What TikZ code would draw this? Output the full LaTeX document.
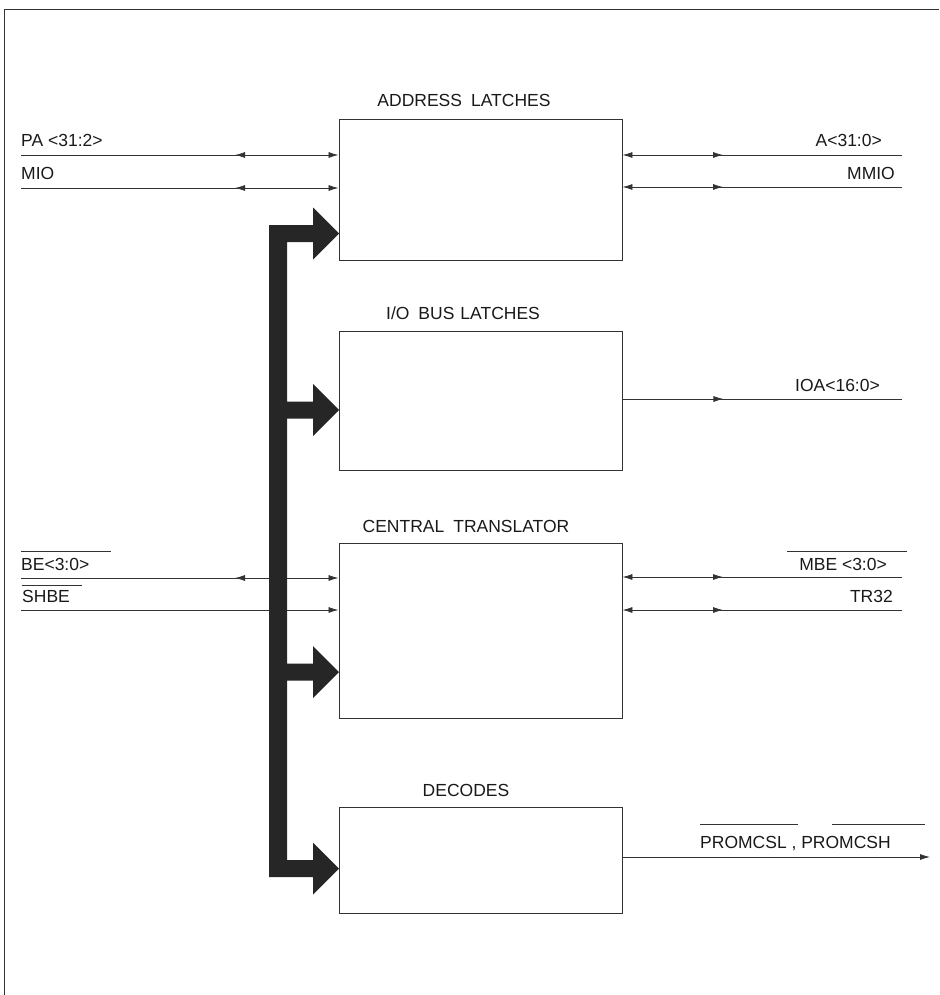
\documentclass[tikz,border=0pt]{standalone}
\usepackage{fontspec}
\setmainfont{Liberation Sans}
\usetikzlibrary{arrows.meta,decorations.markings}
\begin{document}
\begin{tikzpicture}[x=1pt,y=-1pt,
  font=\fontsize{17.5}{20}\selectfont,
  blk/.style={draw=black!80, line width=0.9pt, minimum width=283pt, inner sep=0pt},
  sig/.style={draw=black!80, line width=0.8pt},
  tip/.style={-{Latex[length=10pt,width=6pt]}},
  lbl/.style={inner sep=0pt, text=black!90},
  ovl/.style={draw=black!80, line width=0.8pt},
  midrev/.style={postaction={decorate}, decoration={markings, mark=at position #1 with {\arrowreversed{Latex[length=10pt,width=6pt]}}}},
  midfwd/.style={postaction={decorate}, decoration={markings, mark=at position #1 with {\arrow{Latex[length=10pt,width=6pt]}}}}
]
\useasboundingbox (0,0) rectangle (939,995);
% frame
\draw[line width=1pt, black!80] (4,995) -- (4,10) -- (939,10);

% blocks
\node[blk, minimum height=141pt] (addr) at (480.5,189.5) {};
\node[blk, minimum height=139pt] (iob) at (480.5,400.5) {};
\node[blk, minimum height=175pt] (ctr) at (480.5,630.5) {};
\node[blk, minimum height=106pt] (dec) at (480.5,860) {};

% titles
\node[lbl, anchor=base] (addrT) at (464,107) {ADDRESS\hspace{9pt}LATCHES};
\node[lbl, anchor=base] (iobT) at (463,319) {I/O\hspace{9pt}BUS\hspace{6pt}LATCHES};
\node[lbl, anchor=base] (ctrT) at (466,532) {CENTRAL\hspace{9pt}TRANSLATOR};
\node[lbl, anchor=base] (decT) at (466,796) {DECODES};

% left signals
\coordinate (paL) at (21,155);
\coordinate (mioL) at (21,188);
\coordinate (beL) at (21,578);
\coordinate (shL) at (21,610);
\draw[sig, tip, midrev=214pt] (paL) -- (paL -| addr.west);
\draw[sig, tip, midrev=214pt] (mioL) -- (mioL -| addr.west);
\draw[sig, tip, midrev=214pt] (beL) -- (beL -| ctr.west);
\draw[sig, tip] (shL) -- (shL -| ctr.west);
\node[lbl, anchor=base west] (paT) at (21,147) {PA <31:2>};
\node[lbl, anchor=base west] (mioT) at (21,180) {MIO};
\node[lbl, anchor=base west] (beT) at (21,570) {BE<3:0>};
\node[lbl, anchor=base west] (shT) at (22,602) {SHBE};
\draw[ovl] (21,551) -- (111,551);
\draw[ovl] (22,585) -- (82,585);

% right signals
\coordinate (aR) at (902,155);
\coordinate (mmR) at (902,187);
\coordinate (ioaR) at (902,399);
\coordinate (mbeR) at (902,577);
\coordinate (trR) at (902,610);
\coordinate (promR) at (930,857);
\draw[sig, tip, midrev=179pt] (aR) -- (aR -| addr.east);
\draw[sig, tip, midrev=179pt] (mmR) -- (mmR -| addr.east);
\draw[sig, midfwd=101pt] (ioaR -| iob.east) -- (ioaR);
\draw[sig, tip, midrev=179pt] (mbeR) -- (mbeR -| ctr.east);
\draw[sig, tip, midrev=179pt] (trR) -- (trR -| ctr.east);
\draw[sig, tip] (promR -| dec.east) -- (promR);
\node[lbl, anchor=base east] (aT) at (882,147) {A<31:0>};
\node[lbl, anchor=base east] (mmT) at (895,180) {MMIO};
\node[lbl, anchor=base east] (ioaT) at (880,391) {IOA<16:0>};
\node[lbl, anchor=base east] (mbeT) at (887,570) {MBE <3:0>};
\node[lbl, anchor=base east] (trT) at (893,602) {TR32};
\node[lbl, anchor=base west] (promT) at (700,848) {PROMCSL , PROMCSH};
\draw[ovl] (787,551) -- (907,551);
\draw[ovl] (700,824) -- (798,824);
\draw[ovl] (832,824) -- (925,824);

% internal bus
\fill[black!85] (269,225) -- (313,225) -- (313,207.5) -- (339,233.5) -- (313,259.5) -- (313,242)
  -- (287,242) -- (287,401.5) -- (313,401.5) -- (313,384) -- (339,410) -- (313,436) -- (313,418.5)
  -- (287,418.5) -- (287,663.5) -- (313,663.5) -- (313,646) -- (339,672) -- (313,698) -- (313,680.5)
  -- (287,680.5) -- (287,860) -- (313,860) -- (313,842.5) -- (339,868.5) -- (313,894.5) -- (313,877)
  -- (269,877) -- cycle;
\end{tikzpicture}
\end{document}
